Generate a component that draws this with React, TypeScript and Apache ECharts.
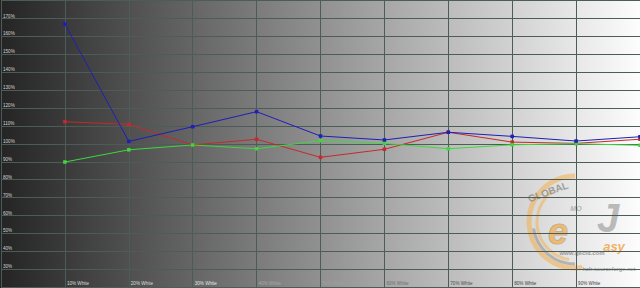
import React, { useEffect, useRef } from 'react';
import * as echarts from 'echarts';

// Stimulus levels (% White) along the x axis
const levels = [10, 20, 30, 40, 50, 60, 70, 80, 90, 100];
// RGB balance per level, in %
const blueValues = [166.9, 101.4, 109.6, 118.0, 104.4, 102.2, 106.5, 104.2, 101.6, 104.0];
const redValues = [112.4, 110.9, 99.4, 102.6, 92.5, 97.0, 106.5, 101.0, 100.3, 102.6];
const greenValues = [89.9, 96.7, 99.4, 97.3, 101.8, 100.3, 97.3, 99.5, 100.1, 99.2];
// Y tick labels that are shown
const yLabelValues = [30, 40, 50, 60, 70, 80, 90, 100, 110, 120, 130, 140, 150, 160, 170];
// X label colours (contrast against the grey ramp)
const xLabelColors: Record<number, string> = {
  10: '#dcdcdc', 20: '#dcdcdc', 30: '#e4e4e4', 40: '#a9a9a9', 50: '#a0a0a0',
  60: '#6e6e6e', 70: '#4c4c4c', 80: '#404040', 90: '#404040', 100: '#404040',
};

const FONT = 'Liberation Sans, Arial, sans-serif';

export default function App() {
  const ref = useRef<HTMLDivElement>(null);
  useEffect(() => {
    if (!ref.current) return;
    const chart = echarts.init(ref.current, null, { renderer: 'svg' });
    const mk = (vals: number[]) => levels.map((l, i) => [l, vals[i]]);
    const lineSeries = (name: string, vals: number[], color: string) => ({
      name,
      type: 'line',
      data: mk(vals),
      symbol: 'rect',
      symbolSize: 3.5,
      lineStyle: { color, width: 1 },
      itemStyle: { color },
      z: 5,
    });
    const cx = 575;
    const cy = 222;
    chart.setOption({
      animation: false,
      grid: { left: 0, right: 0, top: 0.6, bottom: 0.8, containLabel: false },
      xAxis: {
        type: 'value',
        min: 0,
        max: 100,
        interval: 10,
        axisLine: { show: false },
        axisTick: { show: false },
        splitLine: { show: true, lineStyle: { color: '#4e5c59', width: 1 } },
        axisLabel: {
          inside: true,
          margin: 1,
          align: 'left',
          padding: [0, 0, 0, 2],
          fontSize: 4.6,
          fontFamily: FONT,
          showMinLabel: false,
          showMaxLabel: false,
          formatter: (v: number) => (levels.includes(v) && v !== 100 ? `${v}% White` : ''),
          color: (v: any) => xLabelColors[Number(v)] || '#404040',
        },
      },
      yAxis: {
        type: 'value',
        min: 20,
        max: 180,
        interval: 10,
        axisLine: { show: false },
        axisTick: { show: false },
        splitLine: { show: true, lineStyle: { color: '#4e5c59', width: 1 } },
        axisLabel: {
          inside: true,
          margin: 2,
          verticalAlign: 'bottom',
          fontSize: 4.6,
          fontFamily: FONT,
          color: '#d4d4d4',
          formatter: (v: number) => (yLabelValues.includes(v) ? `${v}%` : ''),
        },
      },
      graphic: [
        { type: 'arc', z: -1, silent: true, shape: { cx, cy, r: 46, startAngle: Math.PI * 0.45, endAngle: Math.PI * 1.5, clockwise: true }, style: { stroke: '#f3b04a', lineWidth: 5, fill: 'none', opacity: 0.55 } },
        { type: 'arc', z: -1, silent: true, shape: { cx, cy, r: 38, startAngle: Math.PI * 0.55, endAngle: Math.PI * 1.3, clockwise: true }, style: { stroke: '#f3b04a', lineWidth: 3, fill: 'none', opacity: 0.5 } },
        { type: 'arc', z: -1, silent: true, shape: { cx, cy, r: 42, startAngle: Math.PI * 0.5, endAngle: Math.PI * 0.95, clockwise: true }, style: { stroke: '#8c8c8c', lineWidth: 3, fill: 'none', opacity: 0.55 } },
        { type: 'text', z: -1, silent: true, x: 548, y: 192, rotation: 0.35, style: { text: 'GLOBAL', fill: '#8a8a8a', font: `bold 10px ${FONT}`, align: 'center', verticalAlign: 'middle', opacity: 0.8 } },
        { type: 'text', z: -1, silent: true, x: 576, y: 208, style: { text: 'MO', fill: '#9a9a9a', font: `italic bold 7px ${FONT}`, align: 'center', verticalAlign: 'middle', opacity: 0.7 } },
        { type: 'text', z: -1, silent: true, x: 558, y: 231, style: { text: 'e', fill: '#f0b050', font: `italic bold 36px ${FONT}`, align: 'center', verticalAlign: 'middle', opacity: 0.75, stroke: '#9a9a9a', lineWidth: 1 } },
        { type: 'text', z: -1, silent: true, x: 608, y: 218, style: { text: 'J', fill: '#a0a0a0', font: `italic bold 40px ${FONT}`, align: 'center', verticalAlign: 'middle', opacity: 0.7 } },
        { type: 'text', z: -1, silent: true, x: 614, y: 246, style: { text: 'asy', fill: '#f0a040', font: `italic bold 13px ${FONT}`, align: 'center', verticalAlign: 'middle', opacity: 0.8 } },
        { type: 'text', z: -1, silent: true, x: 582, y: 252.5, style: { text: 'www.gecid.com', fill: '#9a9a9a', font: `bold 6px ${FONT}`, align: 'center', verticalAlign: 'middle' } },
        { type: 'text', z: -1, silent: true, x: 609, y: 269, style: { text: 'hcfr.sourceforge.net', fill: '#8c8c8c', font: `6px ${FONT}`, align: 'center', verticalAlign: 'middle' } },
      ],
      series: [
        lineSeries('Red', redValues, '#c82828'),
        lineSeries('Green', greenValues, '#3ed83e'),
        lineSeries('Blue', blueValues, '#1e1eb8'),
      ],
    });
    return () => chart.dispose();
  }, []);
  return (
    <div
      ref={ref}
      style={{
        position: 'fixed',
        left: 0,
        top: 0,
        width: 640,
        height: 288,
        background: 'linear-gradient(to right, #242424 0%, #fdfdfd 100%)',
      }}
    />
  );
}
